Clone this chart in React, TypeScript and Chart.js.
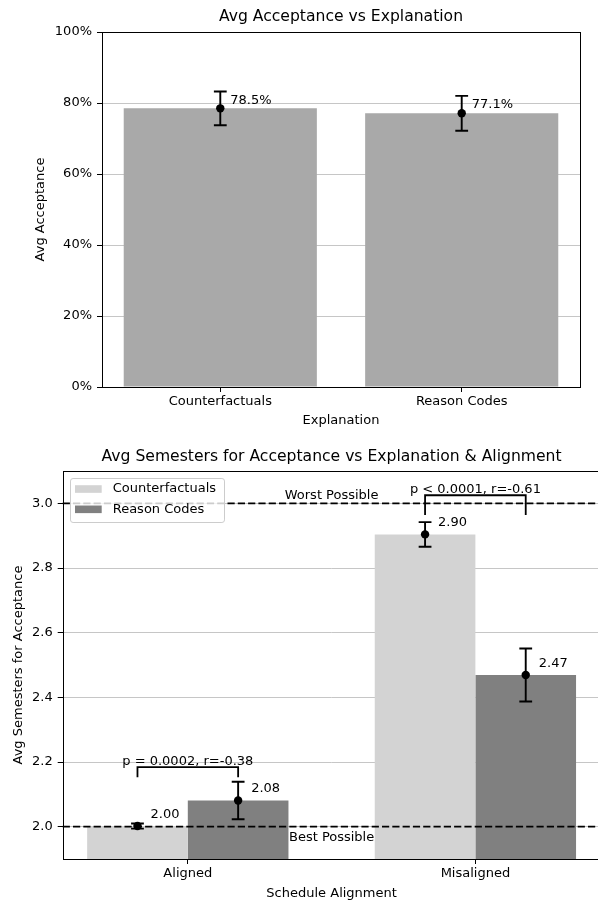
import React, { useEffect, useRef } from 'react';
import { Chart, registerables } from 'chart.js';

Chart.register(...registerables);

const FONT = "'DejaVu Sans', 'Liberation Sans', sans-serif";

// ---- Top chart data ----
const explanations = ['Counterfactuals', 'Reason Codes'];
const acceptanceMeans = [78.5, 77.1];
const acceptanceErrors = [4.75, 4.9];
const acceptanceTicks = [0, 20, 40, 60, 80, 100];

// ---- Bottom chart data ----
const alignments = ['Aligned', 'Misaligned'];
const seriesNames = ['Counterfactuals', 'Reason Codes'];
const cfSemesters = [2.002, 2.904];
const cfSemErrors = [0.008, 0.038];
const rcSemesters = [2.081, 2.469];
const rcSemErrors = [0.058, 0.082];
const semesterTicks = [2.0, 2.2, 2.4, 2.6, 2.8, 3.0];
const pTexts = ['p = 0.0002, r=-0.38', 'p < 0.0001, r=-0.61'];
const bracketTops = [2.184, 3.025];
const bracketLegs = [2.153, 2.964];
const referenceValues = [3.0, 2.0];
const referenceTexts = ['Worst Possible', 'Best Possible'];
const referencePlacement = ['above', 'below'];

const errorBarPlugin = {
  id: 'errorBars',
  afterDatasetsDraw(chart: any, _args: any, opts: any) {
    const { ctx } = chart;
    const yS = chart.scales.y;
    chart.data.datasets.forEach((ds: any, di: number) => {
      const meta = chart.getDatasetMeta(di);
      meta.data.forEach((bar: any, i: number) => {
        const v = ds.data[i].y;
        const e = ds.errors[i];
        const px = bar.x;
        const py = yS.getPixelForValue(v);
        const top = yS.getPixelForValue(v + e);
        const bot = yS.getPixelForValue(v - e);
        ctx.save();
        ctx.strokeStyle = '#000';
        ctx.lineWidth = 1.9;
        ctx.beginPath();
        ctx.moveTo(px, top);
        ctx.lineTo(px, bot);
        ctx.moveTo(px - 6.4, top);
        ctx.lineTo(px + 6.4, top);
        ctx.moveTo(px - 6.4, bot);
        ctx.lineTo(px + 6.4, bot);
        ctx.stroke();
        ctx.fillStyle = '#000';
        ctx.beginPath();
        ctx.arc(px, py, 4.2, 0, Math.PI * 2);
        ctx.fill();
        ctx.font = `13px ${FONT}`;
        ctx.textAlign = 'left';
        ctx.textBaseline = 'middle';
        ctx.fillText(ds.valueLabels[i], px + opts.dx, py - opts.dy);
        ctx.restore();
      });
    });
  },
};

const framePlugin = {
  id: 'frame',
  afterDatasetsDraw(chart: any) {
    const { ctx, chartArea: ca } = chart;
    ctx.save();
    ctx.strokeStyle = '#000';
    ctx.lineWidth = 1;
    ctx.strokeRect(Math.round(ca.left) + 0.5, Math.round(ca.top) + 0.5, Math.round(ca.right - ca.left), Math.round(ca.bottom - ca.top));
    ctx.restore();
  },
};

const referenceLinePlugin = {
  id: 'refLines',
  afterDatasetsDraw(chart: any) {
    const { ctx, chartArea: ca } = chart;
    const yS = chart.scales.y;
    const cx = (ca.left + ca.right) / 2;
    referenceValues.forEach((v, i) => {
      const y = yS.getPixelForValue(v);
      ctx.save();
      ctx.strokeStyle = '#000';
      ctx.lineWidth = 1.9;
      ctx.setLineDash([7.2, 3.1]);
      ctx.beginPath();
      ctx.moveTo(ca.left, y);
      ctx.lineTo(ca.right, y);
      ctx.stroke();
      ctx.setLineDash([]);
      ctx.fillStyle = '#000';
      ctx.font = `13px ${FONT}`;
      ctx.textAlign = 'center';
      ctx.textBaseline = 'alphabetic';
      ctx.fillText(referenceTexts[i], cx, referencePlacement[i] === 'above' ? y - 4 : y + 14.7);
      ctx.restore();
    });
  },
};

const bracketPlugin = {
  id: 'brackets',
  afterDatasetsDraw(chart: any) {
    const { ctx } = chart;
    const yS = chart.scales.y;
    const m0 = chart.getDatasetMeta(0);
    const m1 = chart.getDatasetMeta(1);
    pTexts.forEach((t, i) => {
      const xa = m0.data[i].x;
      const xb = m1.data[i].x;
      const yt = yS.getPixelForValue(bracketTops[i]);
      const yl = yS.getPixelForValue(bracketLegs[i]);
      ctx.save();
      ctx.strokeStyle = '#000';
      ctx.lineWidth = 1.8;
      ctx.beginPath();
      ctx.moveTo(xa, yl);
      ctx.lineTo(xa, yt);
      ctx.lineTo(xb, yt);
      ctx.lineTo(xb, yl);
      ctx.stroke();
      ctx.fillStyle = '#000';
      ctx.font = `13px ${FONT}`;
      ctx.textAlign = 'center';
      ctx.textBaseline = 'alphabetic';
      ctx.fillText(t, (xa + xb) / 2, yt - 2.5);
      ctx.restore();
    });
  },
};

const legendBoxPlugin = {
  id: 'legendBox',
  afterDatasetsDraw(chart: any) {
    const { ctx, chartArea: ca } = chart;
    const ds = chart.data.datasets;
    ctx.save();
    ctx.font = `13px ${FONT}`;
    const maxW = Math.max(...ds.map((d: any) => ctx.measureText(d.label).width));
    const x0 = ca.left + 7.3;
    const y0 = ca.top + 6.7;
    const w = 5 + 26.7 + 11 + maxW + 8;
    const h = 44;
    ctx.beginPath();
    ctx.roundRect(Math.round(x0) + 0.5, Math.round(y0) + 0.5, Math.round(w), h, 2.6);
    ctx.fillStyle = 'rgba(255,255,255,0.8)';
    ctx.fill();
    ctx.strokeStyle = '#cccccc';
    ctx.lineWidth = 1;
    ctx.stroke();
    ds.forEach((d: any, i: number) => {
      const cy = y0 + 11.3 + i * 20.3;
      ctx.fillStyle = d.backgroundColor;
      ctx.fillRect(x0 + 5, cy - 3.8, 26.7, 7.6);
      ctx.fillStyle = '#000';
      ctx.textAlign = 'left';
      ctx.textBaseline = 'middle';
      ctx.fillText(d.label, x0 + 5 + 26.7 + 11, cy);
    });
    ctx.restore();
  },
};

function axisFont(size = 13) {
  return { family: FONT, size, weight: 'normal' as const };
}

export default function App() {
  const topRef = useRef<HTMLCanvasElement>(null);
  const botRef = useRef<HTMLCanvasElement>(null);

  useEffect(() => {
    Chart.defaults.font.family = FONT;
    Chart.defaults.color = '#000';

    const top = new Chart(topRef.current!, {
      type: 'bar',
      data: {
        datasets: [
          {
            label: 'Avg Acceptance',
            data: explanations.map((_, i) => ({ x: i, y: acceptanceMeans[i] })),
            backgroundColor: '#a9a9a9',
            borderWidth: 0,
            categoryPercentage: 0.8,
            barPercentage: 1,
            errors: acceptanceErrors,
            valueLabels: acceptanceMeans.map((v) => v.toFixed(1) + '%'),
          } as any,
        ],
      },
      options: {
        responsive: false,
        animation: false,
        events: [],
        layout: { padding: { left: 29.2, right: 18, top: 0, bottom: 7.2 } },
        plugins: {
          legend: { display: false },
          tooltip: { enabled: false },
          title: {
            display: true,
            text: 'Avg Acceptance vs Explanation',
            font: axisFont(15.6),
            color: '#000',
            padding: { top: 7.4, bottom: 5.9 },
            fullSize: false,
          },
          errorBars: { dx: 10, dy: 8.2 },
        } as any,
        scales: {
          x: {
            type: 'linear',
            min: -0.49,
            max: 1.49,
            offset: false,
            afterBuildTicks: (s: any) => {
              s.ticks = explanations.map((_, i) => ({ value: i }));
            },
            afterFit: (s: any) => {
              s.height = 45.8;
            },
            grid: { drawOnChartArea: false, drawTicks: true, tickLength: 5, tickColor: '#000', offset: false },
            border: { display: false },
            ticks: {
              autoSkip: false,
              maxRotation: 0,
              minRotation: 0,
              padding: 2,
              font: axisFont(),
              color: '#000',
              callback: (v: any) => explanations[v as number] ?? '',
            },
            title: { display: true, text: 'Explanation', font: axisFont(), color: '#000', padding: { top: 4, bottom: 4 } },
          },
          y: {
            min: 0,
            max: 100,
            afterBuildTicks: (s: any) => {
              s.ticks = acceptanceTicks.map((v) => ({ value: v }));
            },
            afterFit: (s: any) => {
              s.width = 72.8;
            },
            grid: { color: '#c6c6c6', lineWidth: 1, drawTicks: true, tickLength: 5, tickColor: '#000' },
            border: { display: false },
            ticks: {
              padding: 5,
              font: axisFont(),
              color: '#000',
              callback: (v: any) => `${v}%`,
            },
            title: { display: true, text: 'Avg Acceptance', font: axisFont(), color: '#000', padding: { top: 4, bottom: 4 } },
          },
        },
      } as any,
      plugins: [errorBarPlugin, framePlugin],
    });

    const bot = new Chart(botRef.current!, {
      type: 'bar',
      data: {
        datasets: [
          {
            label: seriesNames[0],
            data: alignments.map((_, i) => ({ x: i, y: cfSemesters[i] })),
            backgroundColor: '#d3d3d3',
            borderWidth: 0,
            categoryPercentage: 0.7,
            barPercentage: 1,
            errors: cfSemErrors,
            valueLabels: cfSemesters.map((v) => v.toFixed(2)),
          } as any,
          {
            label: seriesNames[1],
            data: alignments.map((_, i) => ({ x: i, y: rcSemesters[i] })),
            backgroundColor: '#808080',
            borderWidth: 0,
            categoryPercentage: 0.7,
            barPercentage: 1,
            errors: rcSemErrors,
            valueLabels: rcSemesters.map((v) => v.toFixed(2)),
          } as any,
        ],
      },
      options: {
        responsive: false,
        animation: false,
        events: [],
        layout: { padding: { left: 6.7, right: 19.5, top: 0, bottom: 0 } },
        plugins: {
          legend: { display: false },
          tooltip: { enabled: false },
          title: {
            display: true,
            text: 'Avg Semesters for Acceptance vs Explanation & Alignment',
            font: axisFont(15.6),
            color: '#000',
            padding: { top: 7.4, bottom: 4.9 },
            fullSize: false,
          },
          errorBars: { dx: 13, dy: 11.4 },
        } as any,
        scales: {
          x: {
            type: 'linear',
            min: -0.435,
            max: 1.435,
            offset: false,
            afterBuildTicks: (s: any) => {
              s.ticks = alignments.map((_, i) => ({ value: i }));
            },
            afterFit: (s: any) => {
              s.height = 42;
            },
            grid: { drawOnChartArea: false, drawTicks: true, tickLength: 5, tickColor: '#000', offset: false },
            border: { display: false },
            ticks: {
              autoSkip: false,
              maxRotation: 0,
              minRotation: 0,
              padding: 2,
              font: axisFont(),
              color: '#000',
              callback: (v: any) => alignments[v as number] ?? '',
            },
            title: { display: true, text: 'Schedule Alignment', font: axisFont(), color: '#000', padding: { top: 4, bottom: 0 } },
          },
          y: {
            min: 1.9,
            max: 3.1,
            afterBuildTicks: (s: any) => {
              s.ticks = semesterTicks.map((v) => ({ value: v }));
            },
            afterFit: (s: any) => {
              s.width = 56;
            },
            grid: { color: '#c6c6c6', lineWidth: 1, drawTicks: true, tickLength: 5, tickColor: '#000' },
            border: { display: false },
            ticks: {
              padding: 5,
              font: axisFont(),
              color: '#000',
              callback: (v: any) => Number(v).toFixed(1),
            },
            title: { display: true, text: 'Avg Semesters for Acceptance', font: axisFont(), color: '#000', padding: { top: 4, bottom: 4 } },
          },
        },
      } as any,
      plugins: [errorBarPlugin, referenceLinePlugin, bracketPlugin, legendBoxPlugin, framePlugin],
    });

    return () => {
      top.destroy();
      bot.destroy();
    };
  }, []);

  return (
    <div
      style={{
        position: 'fixed',
        left: 0,
        top: 0,
        width: 598,
        height: 901,
        overflow: 'hidden',
        background: '#fff',
      }}
    >
      <canvas ref={topRef} width={598} height={440} style={{ position: 'absolute', left: 0, top: 0 }} />
      <canvas ref={botRef} width={620} height={461} style={{ position: 'absolute', left: 0, top: 440 }} />
    </div>
  );
}
